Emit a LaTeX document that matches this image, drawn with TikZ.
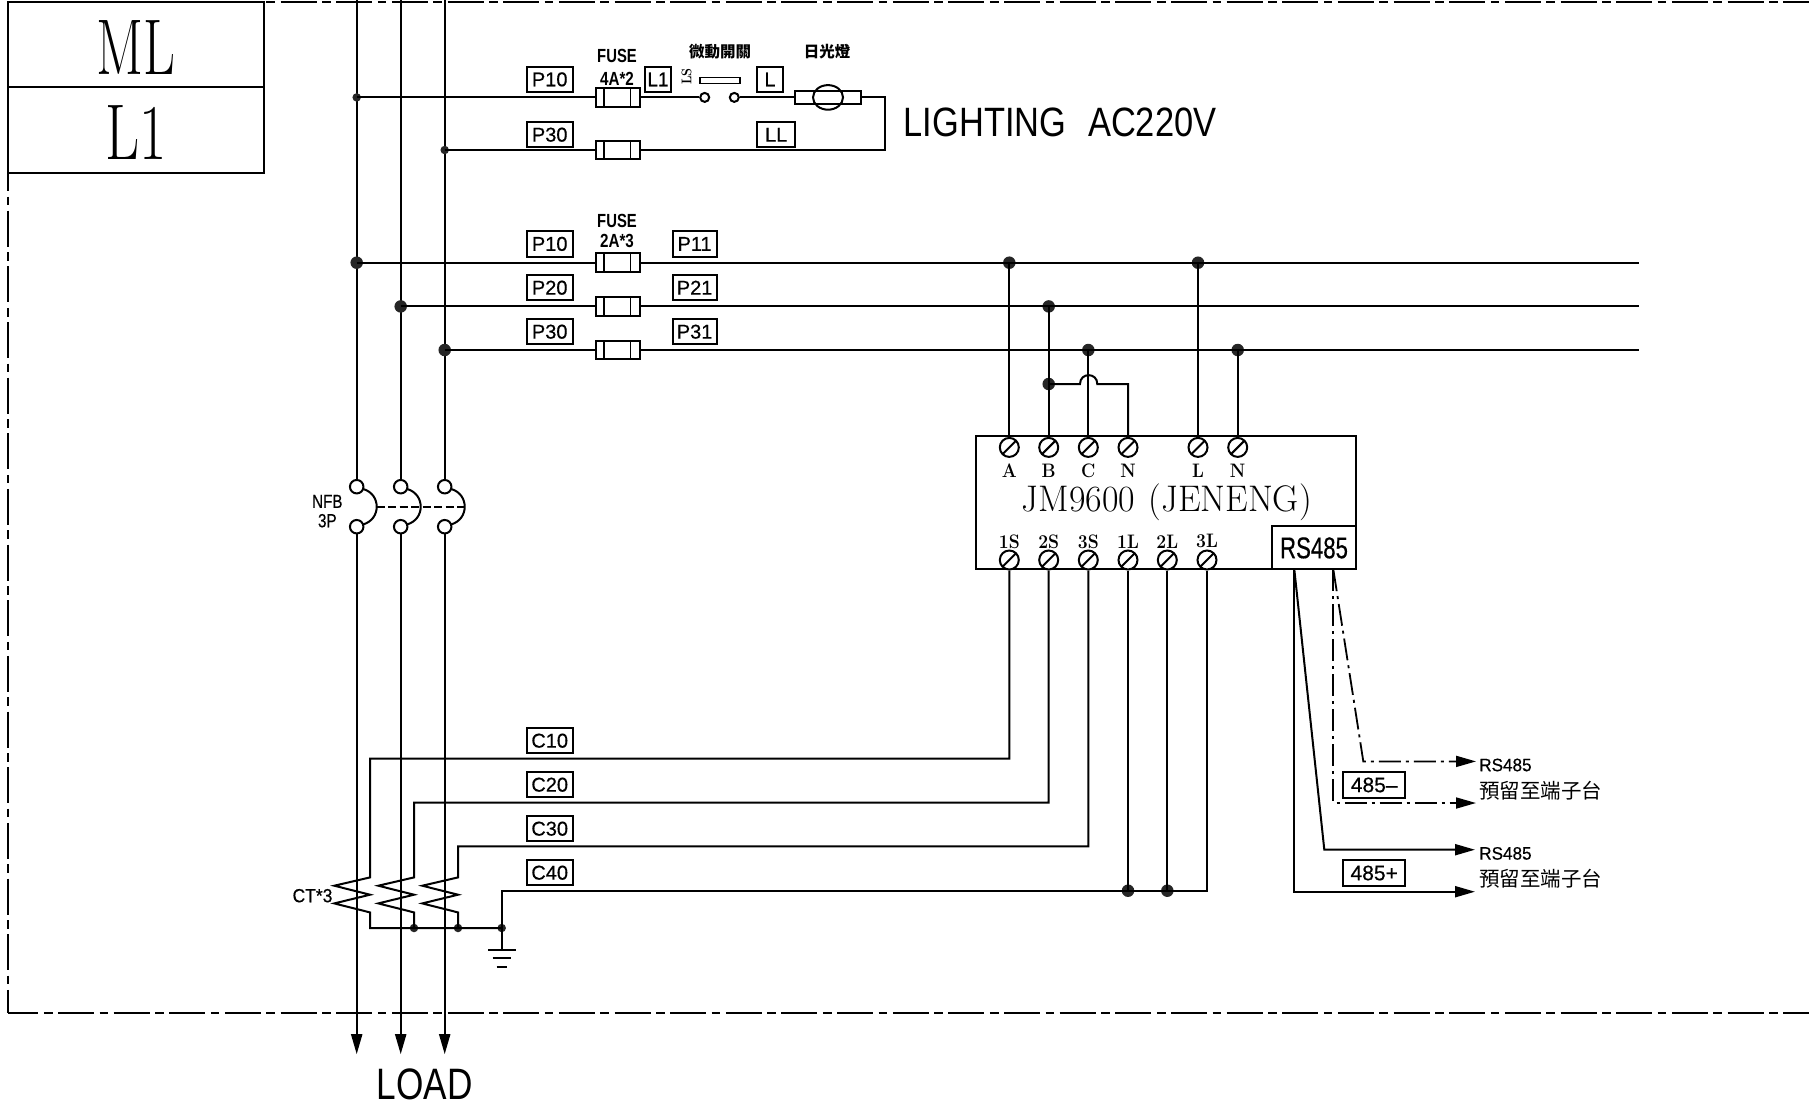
\documentclass[tikz,border=0pt]{standalone}
\usepackage{fontspec}
\usepackage{graphicx}
\usetikzlibrary{arrows.meta,shapes.geometric}
\newfontfamily\cad[FakeBold=0.5]{Liberation Sans}
\newfontfamily\cadl{Liberation Sans}
\newfontfamily\cadb{Liberation Sans Bold}
\newfontfamily\cjk{Noto Sans CJK TC}
\newcommand{\sx}[3]{\scalebox{#1}[1]{\fontsize{#2}{#2}\selectfont #3}}
\tikzset{
  wire/.style={line width=2pt,line cap=butt,line join=miter},
  frameline/.style={line width=2pt,dash pattern=on 36pt off 5.5pt on 8.65pt off 5.5pt},
  ddot/.style={line width=1.8pt,dash pattern=on 22pt off 5pt on 3pt off 5pt},
  arr/.style={-{Triangle[length=20pt,width=11pt]}},
  tag/.style={draw,line width=2pt,inner sep=0pt,minimum width=46pt,minimum height=25.5pt,fill=white,font=\cad},
  txt/.style={inner sep=0pt,outer sep=0pt},
  fusebox/.style={draw,line width=2pt,fill=white,inner sep=0pt,minimum width=44.3pt,minimum height=18.7pt,
    path picture={\draw[line width=1.6pt] ([xshift=8.3pt]path picture bounding box.north west) -- ([xshift=8.3pt]path picture bounding box.south west);
      \draw[line width=1.6pt] ([xshift=-9.3pt]path picture bounding box.north east) -- ([xshift=-9.3pt]path picture bounding box.south east);}},
  bigdot/.style={circle,fill=black!85,inner sep=0pt,minimum size=12.5pt},
  smalldot/.style={circle,fill=black!85,inner sep=0pt,minimum size=8.5pt},
  pole/.style={circle,draw,line width=2pt,fill=white,inner sep=0pt,minimum size=13.5pt},
  swpt/.style={circle,draw,line width=2pt,fill=white,inner sep=0pt,minimum size=9pt},
  term/.style={circle,draw,line width=2pt,fill=white,inner sep=0pt,minimum size=19pt,
    path picture={\draw[line width=2pt] (path picture bounding box.south west) -- (path picture bounding box.north east);}},
}
\begin{document}
\begin{tikzpicture}[x=1pt,y=-1pt]
\useasboundingbox (0,-0.7) rectangle (1809,1103.3);
% frame
\coordinate (fTL) at (8,1);
\coordinate (fTR) at (1809,1);
\coordinate (fLT) at (8,172);
\coordinate (fBL) at (8,1012.7);
\coordinate (fBR) at (1809,1012.7);
\draw[frameline,dash phase=5.65pt] (fTL) -- (fTR);
\draw[frameline,dash phase=17.65pt] (fLT) -- (fBL);
\draw[frameline,dash phase=5.65pt] (fBL) -- (fBR);
% title block
\node[draw,line width=2pt,minimum width=255.5pt,minimum height=85pt,inner sep=0pt] (mlbox) at (135.75,43.5) {};
\node[draw,line width=2pt,minimum width=255.5pt,minimum height=86pt,inner sep=0pt] (l1box) at (135.75,129) {};
\node[txt] (mltxt) at (136,46.5) {\sx{0.7}{79}{ML}};
\node[txt] (l1txt) at (136,131.5) {\sx{0.75}{79}{L1}};
% bus tops and load ends
\coordinate (top1) at (356.7,-1);\coordinate (top2) at (400.7,-1);\coordinate (top3) at (444.7,-1);
\coordinate (end1) at (356.7,1053.5);\coordinate (end2) at (400.7,1053.5);\coordinate (end3) at (444.7,1053.5);
% NFB poles
\node[pole] (pa1) at (356.7,486) {};\node[pole] (pb1) at (356.7,526) {};
\node[pole] (pa2) at (400.7,486) {};\node[pole] (pb2) at (400.7,526) {};
\node[pole] (pa3) at (444.7,486) {};\node[pole] (pb3) at (444.7,526) {};
\draw[wire] (top1) -- (pa1) (top2) -- (pa2) (top3) -- (pa3);
\draw[wire,arr] (pb1) -- (end1);
\draw[wire,arr] (pb2) -- (end2);
\draw[wire,arr] (pb3) -- (end3);
\foreach \d/\n in {0/1,44/2,88/3}{
  \draw[wire] ([shift={(\d pt,0pt)}]363.3,488.3) .. controls ([shift={(\d pt,0pt)}]372,491) and ([shift={(\d pt,0pt)}]376.7,498) .. ([shift={(\d pt,0pt)}]376.7,506)
     .. controls ([shift={(\d pt,0pt)}]376.7,514) and ([shift={(\d pt,0pt)}]372,521) .. ([shift={(\d pt,0pt)}]363.3,523.7);
}
\coordinate (nfbL) at (376.7,506);\coordinate (nfbR) at (464.7,506);
\draw[line width=2pt,dash pattern=on 8pt off 3.5pt] (nfbL) -- (nfbR);
\node[txt,font=\cad] (nfbt1) at (327.3,500.7) {\sx{0.8}{19}{NFB}};
\node[txt,font=\cad] (nfbt2) at (327.3,520) {\sx{0.8}{19}{3P}};
% junctions on bus
\node[smalldot] (j1) at (356.7,96.7) {};
\node[smalldot] (j2) at (444.7,149.3) {};
\node[bigdot] (j3) at (356.7,262) {};
\node[bigdot] (j4) at (400.7,305.7) {};
\node[bigdot] (j5) at (444.7,349.3) {};
% lighting branch
\node[fusebox] (f1) at (617.8,96.7) {};
\node[fusebox] (f2) at (617.8,149.3) {};
\node[swpt] (s1) at (704.7,96.7) {};
\node[swpt] (s2) at (734.3,96.7) {};
\node[draw,line width=1.8pt,inner sep=0pt,minimum width=40pt,minimum height=6pt] (swbar) at (720,79.7) {};
\node[draw,line width=2pt,fill=white,inner sep=0pt,minimum width=66pt,minimum height=12.3pt] (lamp) at (828,96.7) {};
\node[draw,ellipse,line width=2pt,inner sep=0pt,minimum width=30pt,minimum height=24.6pt] (lampe) at (828,96.7) {};
\coordinate (c1) at (885,96.7);\coordinate (c2) at (885,149.3);
\draw[wire] (j1.center) -- (f1) (f1) -- (s1) (s2) -- (lamp);
\draw[wire] (lamp) -- (c1) -- (c2) -- (f2);
\draw[wire] (j2.center) -- (f2);
\node[tag] (tp10a) at (549.7,78.7) {\sx{1}{20}{P10}};
\node[tag] (tp30a) at (549.7,134) {\sx{1}{20}{P30}};
\node[tag,minimum width=26pt] (tl1) at (658,78.7) {\sx{0.95}{20}{L1}};
\node[tag,minimum width=25.4pt] (tl) at (770,78.7) {\sx{1}{20}{L}};
\node[tag,minimum width=37.7pt] (tll) at (776.2,134) {\sx{1}{20}{LL}};
\node[txt,font=\cadb] (fu1) at (617,55.7) {\sx{0.78}{19}{FUSE}};
\node[txt,font=\cadb] (fu2) at (617,77.7) {\sx{0.8}{19}{4A*2}};
\node[txt,rotate=90,font=\bfseries] (ls) at (686.5,75.7) {\sx{0.9}{14}{LS}};
\node[txt,font=\cjk] (wd) at (720,50.7) {\fontsize{15.5}{15.5}\selectfont\bfseries 微動開關};
\node[txt,font=\cjk] (rg) at (827,50.7) {\fontsize{15.5}{15.5}\selectfont\bfseries 日光燈};
\node[txt,font=\cadl] (lighting) at (1060,122) {\sx{0.84}{41}{LIGHTING\hspace*{26pt}AC220V}};
% meter
\node[draw,line width=2pt,minimum width=380.3pt,minimum height=133pt,inner sep=0pt] (meter) at (1166.15,502.2) {};
\node[draw,line width=2pt,fill=white,minimum width=84.3pt,minimum height=43pt,inner sep=0pt,font=\cad] (rs) at (1314,547.2) {\sx{0.74}{30}{RS485}};
\foreach \n/\x in {A/1009.3,B/1048.7,C/1088.3,N/1128,L/1198,M/1237.7}{
  \node[term] (t\n) at (\x,446.7) {};
}
\foreach \n/\x in {a/1009.3,b/1048.7,c/1088.3,d/1128,e/1167.3,f/1207}{
  \node[term] (u\n) at (\x,559.3) {};
}
\foreach \n/\x/\s in {A/1009.3/A,B/1048.7/B,C/1088.3/C,N/1128/N,L/1198/L,M/1237.7/N}{
  \node[txt,font=\bfseries] (lb\n) at (\x,470) {\sx{0.9}{19.5}{\s}};
}
\foreach \n/\x/\s in {a/1009.3/1S,b/1048.7/2S,c/1088.3/3S,d/1128/1L,e/1167.3/2L,f/1207/3L}{
  \node[txt,font=\bfseries] (lc\n) at (\x,540.7) {\sx{0.9}{19.5}{\s}};
}
\node[txt] (jm) at (1166.7,502) {\sx{0.97}{37}{JM9600\hspace*{14pt}(JENENG)}};
% three-phase rows
\coordinate (e3) at (1638.6,262);\coordinate (e4) at (1638.6,305.7);\coordinate (e5) at (1638.6,349.3);
\node[bigdot] (jA) at (1009.3,262) {};
\node[bigdot] (jL) at (1198,262) {};
\node[bigdot] (jB) at (1048.7,305.7) {};
\node[bigdot] (jC) at (1088.3,349.3) {};
\node[bigdot] (jN) at (1237.7,349.3) {};
\node[bigdot] (jB2) at (1048.7,383.3) {};
\draw[wire] (j3.center) -- (e3);
\draw[wire] (j4.center) -- (e4);
\draw[wire] (j5.center) -- (e5);
\node[fusebox] (f3) at (617.8,262) {};
\node[fusebox] (f4) at (617.8,305.7) {};
\node[fusebox] (f5) at (617.8,349.3) {};
\draw[wire] (jA.center) -- (tA);
\draw[wire] (jL.center) -- (tL);
\draw[wire] (jB.center) -- (tB);
\draw[wire] (jC.center) -- (tC);
\draw[wire] (jN.center) -- (tM);
\draw[wire] (jB2.center) -- (1080,383.3) .. controls (1080,371.5) and (1097.3,371.5) .. (1097.3,383.3) -- (1128,383.3) -- (tN);
\node[tag] (tp10) at (549.7,243.2) {\sx{1}{20}{P10}};
\node[tag] (tp20) at (549.7,287) {\sx{1}{20}{P20}};
\node[tag] (tp30) at (549.7,331) {\sx{1}{20}{P30}};
\node[tag,minimum width=44pt] (tp11) at (694.6,243.2) {\sx{1}{20}{P11}};
\node[tag,minimum width=44pt] (tp21) at (694.6,287) {\sx{1}{20}{P21}};
\node[tag,minimum width=44pt] (tp31) at (694.6,331) {\sx{1}{20}{P31}};
\node[txt,font=\cadb] (fu3) at (617,220.5) {\sx{0.78}{19}{FUSE}};
\node[txt,font=\cadb] (fu4) at (617,240.5) {\sx{0.8}{19}{2A*3}};
% CT
\node[smalldot] (g1) at (414,927.3) {};
\node[smalldot] (g2) at (458,927.3) {};
\node[smalldot] (g3) at (501.7,927.3) {};
\node[bigdot] (k1) at (1128,890) {};
\node[bigdot] (k2) at (1167.3,890) {};
\draw[wire] (ua) |- (370,758) -- (370,876.7) -- (334.3,885) -- (370,894) -- (334.3,902.7) -- (370,911.7) -- (370,927.3) -- (g3.center);
\draw[wire] (ub) |- (414,801.8) -- (414,876.7) -- (378.3,885) -- (414,894) -- (378.3,902.7) -- (414,911.7) -- (g1.center);
\draw[wire] (uc) |- (458,845.7) -- (458,876.7) -- (422.3,885) -- (458,894) -- (422.3,902.7) -- (458,911.7) -- (g2.center);
\draw[wire] (uf) |- (501.7,890) -- (g3.center);
\draw[wire] (ud) -- (k1.center);
\draw[wire] (ue) -- (k2.center);
\coordinate (gnd) at (501.7,949);
\draw[wire] (g3.center) -- (gnd);
\coordinate (gl1) at (488.3,949);\coordinate (gr1) at (515.7,949);
\coordinate (gl2) at (492.7,957.7);\coordinate (gr2) at (511,957.7);
\coordinate (gl3) at (496.7,966.7);\coordinate (gr3) at (507,966.7);
\draw[wire] (gl1) -- (gr1) (gl2) -- (gr2) (gl3) -- (gr3);
\node[txt,font=\cad] (ct) at (312.5,895) {\sx{0.92}{19}{CT*3}};
\node[tag] (tc10) at (549.7,740) {\sx{1}{20}{C10}};
\node[tag] (tc20) at (549.7,784) {\sx{1}{20}{C20}};
\node[tag] (tc30) at (549.7,828) {\sx{1}{20}{C30}};
\node[tag] (tc40) at (549.7,872) {\sx{1}{20}{C40}};
% RS485 wiring
\coordinate (ra) at (1294.3,568.7);\coordinate (rb) at (1333.3,568.7);
\coordinate (r1) at (1294.3,891);\coordinate (r1e) at (1475,891);
\coordinate (r2) at (1324.3,849);\coordinate (r2e) at (1475,849);
\coordinate (r3) at (1333.3,802.3);\coordinate (r3e) at (1476,802.3);
\coordinate (r4) at (1363.3,760.7);\coordinate (r4e) at (1476,760.7);
\draw[wire,arr] (ra) -- (r1) -- (r1e);
\draw[wire,arr] (ra) -- (r2) -- (r2e);
\draw[ddot,arr] (rb) -- (r3) -- (r3e);
\draw[ddot,arr] (rb) -- (r4) -- (r4e);
\node[tag,minimum width=61.7pt,minimum height=26.3pt] (t485m) at (1374.2,784.2) {\sx{1}{21}{485–}};
\node[tag,minimum width=61.7pt,minimum height=26pt] (t485p) at (1374.2,872.3) {\sx{1}{21}{485+}};
\node[txt,anchor=west,font=\cad] (rl1) at (1479.3,764.3) {\sx{0.95}{18}{RS485}};
\node[txt,anchor=west,font=\cad] (rl2) at (1479.3,852.7) {\sx{0.95}{18}{RS485}};
\node[txt,anchor=west,font=\cjk] (rc1) at (1479.3,790) {\fontsize{20.5}{20.5}\selectfont 預留至端子台};
\node[txt,anchor=west,font=\cjk] (rc2) at (1479.3,878.3) {\fontsize{20.5}{20.5}\selectfont 預留至端子台};
\node[txt,font=\cadl] (load) at (424.5,1084) {\sx{0.8}{44}{LOAD}};
\end{tikzpicture}
\end{document}
